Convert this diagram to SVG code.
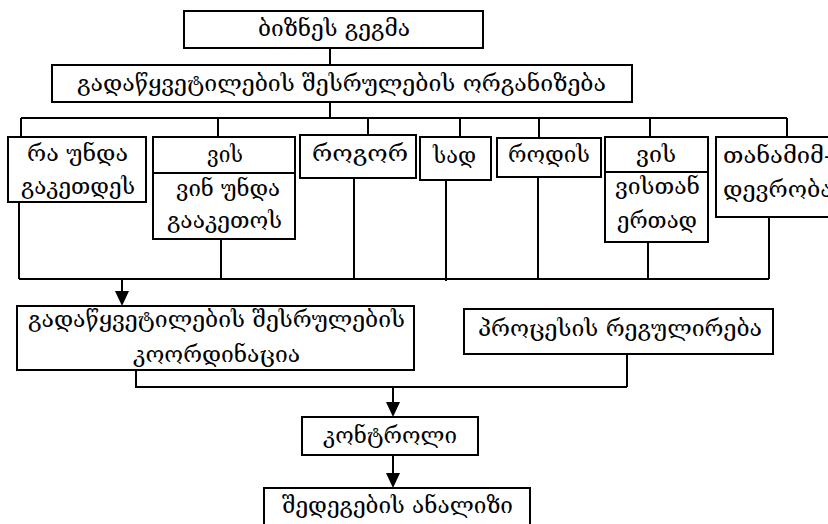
<svg xmlns="http://www.w3.org/2000/svg" width="828" height="524" viewBox="0 0 828 524">
<style>
.box{fill:#fff;stroke:#000;stroke-width:2}
.ln{fill:none;stroke:#000;stroke-width:2}
text{font-family:"DejaVu Serif","DejaVu Sans",serif;font-size:22px;fill:#000}
</style>
<rect width="828" height="524" fill="#fff"/>
<g id="connectors">
<path class="ln" d="M330,48 V65 M330,102 V118 M21,118 H787 M21,118 V137 M218,118 V137 M368,118 V135 M460,118 V137 M539,118 V138 M650,118 V137 M787,118 V138"/>
<path class="ln" d="M19,202 V279 M221,239 V279 M354,178 V279 M446,180 V281 M538,177 V279 M648,242 V279 M769,217 V279 M19,279 H769"/>
<path class="ln" d="M122,279 V292"/>
<path d="M115,291 L129,291 L122,306 Z" fill="#000"/>
<path class="ln" d="M136,370 V387 H627 M627,354 V387 M393,387 V403"/>
<path d="M386,402 L400,402 L393,417 Z" fill="#000"/>
<path class="ln" d="M393,455 V474"/>
<path d="M386,473 L400,473 L393,488 Z" fill="#000"/>
</g>
<g id="n-plan">
<rect class="box" x="184" y="11" width="299" height="37"/>
<text x="258" y="36" textLength="152" lengthAdjust="spacingAndGlyphs">ბიზნეს გეგმა</text>
</g>
<g id="n-org">
<rect class="box" x="52" y="65" width="580" height="37"/>
<text x="77" y="91" textLength="529" lengthAdjust="spacingAndGlyphs">გადაწყვეტილების შესრულების ორგანიზება</text>
</g>
<g id="n-what">
<rect class="box" x="8" y="137" width="138" height="65"/>
<text x="27" y="161" textLength="101" lengthAdjust="spacingAndGlyphs">რა უნდა</text>
<text x="21" y="194" textLength="114" lengthAdjust="spacingAndGlyphs">გაკეთდეს</text>
</g>
<g id="n-who">
<rect class="box" x="153" y="137" width="142" height="102"/>
<path class="ln" d="M153,173 H295"/>
<text x="207" y="162" textLength="36" lengthAdjust="spacingAndGlyphs">ვის</text>
<text x="176" y="196" textLength="104" lengthAdjust="spacingAndGlyphs">ვინ უნდა</text>
<text x="167" y="228" textLength="115" lengthAdjust="spacingAndGlyphs">გააკეთოს</text>
</g>
<g id="n-how">
<rect class="box" x="300" y="135" width="116" height="43"/>
<text x="312" y="161" textLength="96" lengthAdjust="spacingAndGlyphs">როგორ</text>
</g>
<g id="n-where">
<rect class="box" x="420" y="137" width="71" height="43"/>
<text x="433" y="163" textLength="43" lengthAdjust="spacingAndGlyphs">სად</text>
</g>
<g id="n-when">
<rect class="box" x="497" y="138" width="104" height="39"/>
<text x="508" y="162" textLength="82" lengthAdjust="spacingAndGlyphs">როდის</text>
</g>
<g id="n-whom">
<rect class="box" x="605" y="137" width="103" height="105"/>
<path class="ln" d="M605,172 H708"/>
<text x="636" y="162" textLength="40" lengthAdjust="spacingAndGlyphs">ვის</text>
<text x="615" y="194" textLength="85" lengthAdjust="spacingAndGlyphs">ვისთან</text>
<text x="617" y="228" textLength="80" lengthAdjust="spacingAndGlyphs">ერთად</text>
</g>
<g id="n-coop">
<rect class="box" x="716" y="137" width="130" height="80"/>
<text x="723" y="163" textLength="109" lengthAdjust="spacingAndGlyphs">თანამიმ-</text>
<text x="723" y="197" textLength="110" lengthAdjust="spacingAndGlyphs">დევრობა</text>
</g>
<g id="n-coord">
<rect class="box" x="17" y="306" width="397" height="64"/>
<text x="28" y="327" textLength="377" lengthAdjust="spacingAndGlyphs">გადაწყვეტილების შესრულების</text>
<text x="133" y="362" textLength="167" lengthAdjust="spacingAndGlyphs">კოორდინაცია</text>
</g>
<g id="n-reg">
<rect class="box" x="464" y="309" width="309" height="45"/>
<text x="478" y="336" textLength="284" lengthAdjust="spacingAndGlyphs">პროცესის რეგულირება</text>
</g>
<g id="n-control">
<rect class="box" x="302" y="417" width="176" height="38"/>
<text x="323" y="443" textLength="134" lengthAdjust="spacingAndGlyphs">კონტროლი</text>
</g>
<g id="n-analysis">
<rect class="box" x="264" y="488" width="266" height="46"/>
<text x="282" y="513" textLength="231" lengthAdjust="spacingAndGlyphs">შედეგების ანალიზი</text>
</g>
</svg>
